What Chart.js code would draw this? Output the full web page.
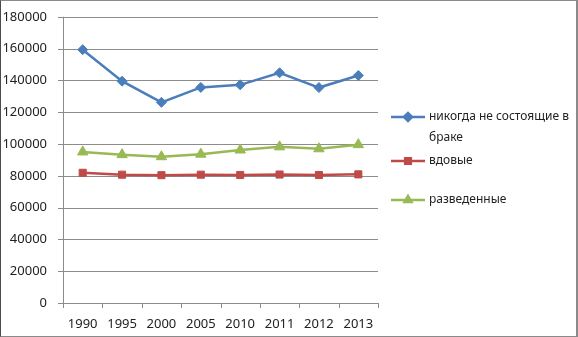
<!DOCTYPE html>
<html><head><meta charset="utf-8">
<script src="https://cdn.jsdelivr.net/npm/chart.js@4/dist/chart.umd.min.js"></script>
<style>html,body{margin:0;padding:0;background:#fff}#w{position:relative;width:578px;height:337px;box-sizing:border-box;border-top:1px solid #8a8a8a;border-left:1px solid #4a4a4a;border-right:2px solid #8a8a8a;border-bottom:1px solid #8a8a8a}canvas{display:block}</style>
</head><body><div id="w"><canvas id="c" width="575" height="335"></canvas></div>
<script>
const years = ['1990','1995','2000','2005','2010','2011','2012','2013'];
const neverMarried = [159300, 139500, 126200, 135600, 137200, 144800, 135500, 143100];
const widowed = [81900, 80700, 80400, 80700, 80500, 80800, 80500, 80900];
const divorced = [95000, 93300, 92000, 93600, 96200, 98200, 97000, 99600];
const seriesNames = ['никогда не состоящие в браке', 'вдовые', 'разведенные'];
const yTicks = [0, 20000, 40000, 60000, 80000, 100000, 120000, 140000, 160000, 180000];

const FONT = 'Noto Sans';
const GRID = '#8c8c8c';
const colors = ['#4a7ebb', '#be4b48', '#98b954'];
const markers = ['rectRot', 'rect', 'triangle'];

const gridPlugin = {
  id: 'excelGrid',
  beforeDatasetsDraw(chart) {
    const ctx = chart.ctx, ca = chart.chartArea;
    const ys = chart.scales.y, xs = chart.scales.x;
    ctx.save();
    ctx.strokeStyle = GRID; ctx.lineWidth = 1;
    yTicks.forEach(v => {
      const y = Math.round(ys.getPixelForValue(v)) + 0.5;
      ctx.beginPath(); ctx.moveTo(ca.left - 5, y); ctx.lineTo(ca.right, y); ctx.stroke();
    });
    const xl = Math.round(ca.left) + 0.5;
    ctx.beginPath(); ctx.moveTo(xl, ca.top); ctx.lineTo(xl, ca.bottom); ctx.stroke();
    const n = xs.ticks.length;
    for (let i = 0; i <= n; i++) {
      const x = Math.round(ca.left + i * (ca.right - ca.left) / n) + 0.5;
      ctx.beginPath(); ctx.moveTo(x, ca.bottom); ctx.lineTo(x, ca.bottom + 5); ctx.stroke();
    }
    ctx.restore();
  }
};

const legendPlugin = {
  id: 'customLegend',
  afterDraw(chart) {
    const ctx = chart.ctx;
    ctx.save();
    ctx.font = '12px "' + FONT + '"';
    ctx.textBaseline = 'middle';
    const items = [
      {y: 116, lines: ['никогда не состоящие в', 'браке']},
      {y: 160, lines: ['вдовые']},
      {y: 199, lines: ['разведенные']}
    ];
    items.forEach((it, i) => {
      const ds = chart.data.datasets[i];
      ctx.strokeStyle = ds.borderColor;
      ctx.lineWidth = 2.5;
      ctx.beginPath(); ctx.moveTo(390, it.y); ctx.lineTo(424, it.y); ctx.stroke();
      ctx.fillStyle = ds.pointBackgroundColor;
      ctx.strokeStyle = ds.borderColor;
      Chart.helpers.drawPoint(ctx, {pointStyle: ds.pointStyle, radius: 4, borderWidth: 1}, 407, it.y);
      ctx.fillStyle = '#222';
      it.lines.forEach((l, j) => ctx.fillText(l, 428, it.y + j * 21));
    });
    ctx.restore();
  }
};

const mk = (name, data, i) => ({
  label: name, data,
  borderColor: colors[i], backgroundColor: colors[i],
  pointBackgroundColor: colors[i], pointBorderColor: colors[i],
  pointStyle: markers[i], pointRadius: i === 2 ? 6 : 5, pointBorderWidth: 1,
  borderWidth: 2.5, tension: 0
});

new Chart(document.getElementById('c'), {
  type: 'line',
  data: {
    labels: years,
    datasets: [mk(seriesNames[0], neverMarried, 0), mk(seriesNames[1], widowed, 1), mk(seriesNames[2], divorced, 2)]
  },
  options: {
    responsive: false, animation: false,
    layout: {padding: {left: 0, right: 198, top: 14, bottom: 0}},
    plugins: {legend: {display: false}, tooltip: {enabled: false}},
    scales: {
      x: {
        offset: true,
        grid: {display: false},
        border: {display: false},
        ticks: {color: '#222', font: {family: FONT, size: 13}, padding: 5, maxRotation: 0},
        afterFit(s) { s.height = 33; }
      },
      y: {
        min: 0, max: 180000,
        afterBuildTicks(s) { s.ticks = yTicks.map(v => ({value: v})); },
        grid: {display: false},
        border: {display: false},
        ticks: {color: '#222', font: {family: FONT, size: 13}, padding: 8, callback: v => String(v)},
        afterFit(s) { s.width = 62; }
      }
    }
  },
  plugins: [gridPlugin, legendPlugin]
});
</script></body></html>
